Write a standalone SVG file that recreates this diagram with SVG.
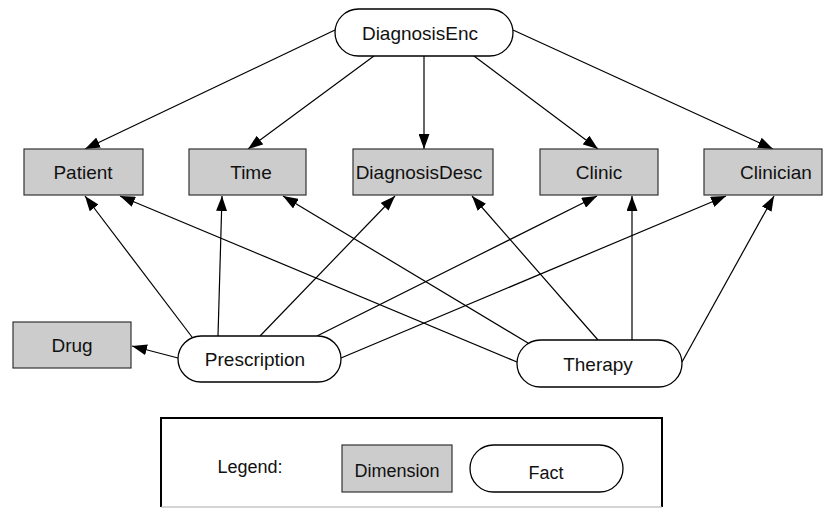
<svg xmlns="http://www.w3.org/2000/svg" width="835" height="513" viewBox="0 0 835 513">
  <style>
    .dim { fill: #cccccc; stroke: #333333; stroke-width: 1.2; }
    .fact { fill: #ffffff; stroke: #000000; stroke-width: 1.3; }
    .lbl { font-family: "Liberation Sans", Arial, sans-serif; font-size: 19px; fill: #111111; text-anchor: middle; }
    .leg { font-family: "Liberation Sans", Arial, sans-serif; font-size: 18px; fill: #111111; text-anchor: middle; }
    .edge { fill: none; stroke: #000000; stroke-width: 1.2; marker-end: url(#arrow); }
  </style>
  <defs>
    <marker id="arrow" markerUnits="userSpaceOnUse" markerWidth="15" markerHeight="11" refX="15" refY="5.5" orient="auto">
      <path d="M0,0 L15,5.5 L0,11 z" fill="#000000"/>
    </marker>
  </defs>
  <rect width="835" height="513" fill="#ffffff"/>

  <!-- connectors -->
  <g id="edges">
    <!-- DiagnosisEnc to dimensions -->
    <line class="edge" x1="335" y1="30" x2="85" y2="149"/>
    <line class="edge" x1="378" y1="53" x2="248" y2="149"/>
    <line class="edge" x1="424" y1="56" x2="424" y2="149"/>
    <line class="edge" x1="470" y1="53" x2="598" y2="149"/>
    <line class="edge" x1="513" y1="30" x2="773" y2="149"/>
    <!-- Prescription to dimensions -->
    <line class="edge" x1="192" y1="337" x2="85" y2="196"/>
    <line class="edge" x1="218" y1="336" x2="222" y2="196"/>
    <line class="edge" x1="260" y1="336" x2="395" y2="196"/>
    <line class="edge" x1="317" y1="336" x2="597" y2="196"/>
    <line class="edge" x1="341" y1="358" x2="726" y2="196"/>
    <line class="edge" x1="178" y1="358" x2="132" y2="346"/>
    <!-- Therapy to dimensions -->
    <line class="edge" x1="517" y1="362" x2="120" y2="196"/>
    <line class="edge" x1="528" y1="343" x2="283" y2="196"/>
    <line class="edge" x1="598" y1="340" x2="472" y2="196"/>
    <line class="edge" x1="632" y1="340" x2="632" y2="196"/>
    <line class="edge" x1="682" y1="362" x2="774" y2="196"/>
  </g>

  <!-- facts -->
  <g id="DiagnosisEnc">
    <rect class="fact" x="335" y="9" width="178" height="47" rx="23.5"/>
    <text class="lbl" x="420" y="40">DiagnosisEnc</text>
  </g>
  <g id="Prescription">
    <rect class="fact" x="178" y="336" width="163" height="46" rx="23"/>
    <text class="lbl" x="255" y="366">Prescription</text>
  </g>
  <g id="Therapy">
    <rect class="fact" x="517" y="340" width="165" height="47" rx="23.5"/>
    <text class="lbl" x="598" y="371">Therapy</text>
  </g>

  <!-- dimensions -->
  <g id="Patient">
    <rect class="dim" x="24" y="149" width="119" height="46"/>
    <text class="lbl" x="83" y="179">Patient</text>
  </g>
  <g id="Time">
    <rect class="dim" x="189" y="149" width="117" height="46"/>
    <text class="lbl" x="251" y="179">Time</text>
  </g>
  <g id="DiagnosisDesc">
    <rect class="dim" x="353" y="149" width="140" height="46"/>
    <text class="lbl" x="419" y="179">DiagnosisDesc</text>
  </g>
  <g id="Clinic">
    <rect class="dim" x="540" y="149" width="118" height="46"/>
    <text class="lbl" x="599" y="179">Clinic</text>
  </g>
  <g id="Clinician">
    <rect class="dim" x="704" y="149" width="118" height="46"/>
    <text class="lbl" x="776" y="179">Clinician</text>
  </g>
  <g id="Drug">
    <rect class="dim" x="13" y="322" width="118" height="46"/>
    <text class="lbl" x="72" y="352">Drug</text>
  </g>

  <!-- legend -->
  <g id="legend">
    <path d="M161,507 L161,418 L662,418 L662,507" fill="none" stroke="#000000" stroke-width="2"/>
    <line x1="161" y1="507" x2="662" y2="507" stroke="#aaaaaa" stroke-width="1"/>
    <text class="leg" x="250" y="473">Legend:</text>
    <rect class="dim" x="342" y="445" width="110" height="47"/>
    <text class="leg" x="397" y="477">Dimension</text>
    <rect class="fact" x="470" y="445" width="153" height="47" rx="23.5"/>
    <text class="leg" x="546" y="479">Fact</text>
  </g>
</svg>
